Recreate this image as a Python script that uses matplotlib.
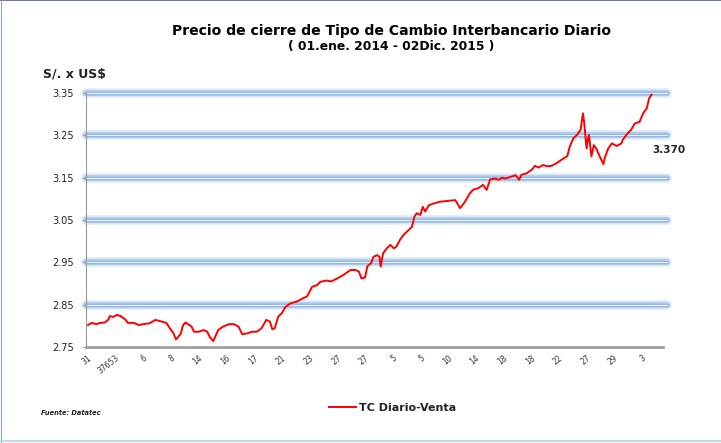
import matplotlib
matplotlib.use('Agg')
import matplotlib.pyplot as plt
from matplotlib.lines import Line2D

# indice de dia habil (desde 01.ene.2014) y tipo de cambio
dias = [0, 3, 7, 10, 14, 17, 18, 21, 24, 27, 31, 33, 38, 42, 46, 51, 56, 60, 65, 68,
        71, 73, 75, 77, 79, 81, 83, 86, 88, 92, 96, 99, 101, 104, 105, 108, 112, 117, 121, 125,
        128, 132, 136, 140, 144, 148, 151, 153, 155, 158, 161, 164, 168, 173, 182, 186, 190, 193, 198, 202,
        207, 212, 218, 222, 225, 227, 230, 232, 235, 237, 240, 242, 243, 245, 248, 251, 254, 256, 259, 262,
        266, 269, 271, 273, 276, 278, 280, 283, 287, 292, 298, 305, 309, 313, 317, 320, 324, 328, 331, 334,
        338, 341, 344, 346, 349, 355, 358, 360, 364, 369, 371, 374, 378, 381, 385, 389, 393, 398, 400, 403,
        406, 409, 411, 412, 414, 415, 416, 418, 420, 422, 425, 428, 429, 432, 435, 439, 443, 444, 447, 451,
        454, 458, 461, 464, 466, 468]
tc_venta = [2.802, 2.807, 2.804, 2.807, 2.808, 2.815, 2.823, 2.821, 2.826, 2.823, 2.815, 2.807, 2.807, 2.802, 2.804, 2.806, 2.814, 2.811, 2.807, 2.794,
            2.782, 2.768, 2.774, 2.782, 2.802, 2.808, 2.804, 2.798, 2.786, 2.786, 2.790, 2.786, 2.774, 2.764, 2.770, 2.790, 2.798, 2.804, 2.804, 2.798,
            2.780, 2.782, 2.786, 2.786, 2.794, 2.814, 2.810, 2.792, 2.794, 2.822, 2.830, 2.845, 2.853, 2.857, 2.870, 2.892, 2.896, 2.904, 2.907, 2.905,
            2.912, 2.920, 2.932, 2.932, 2.928, 2.912, 2.914, 2.941, 2.948, 2.963, 2.967, 2.963, 2.940, 2.971, 2.983, 2.991, 2.983, 2.987, 3.003, 3.015,
            3.026, 3.034, 3.058, 3.066, 3.062, 3.081, 3.070, 3.085, 3.089, 3.093, 3.095, 3.097, 3.078, 3.093, 3.113, 3.122, 3.125, 3.133, 3.121, 3.146,
            3.148, 3.145, 3.150, 3.148, 3.150, 3.156, 3.145, 3.157, 3.160, 3.170, 3.178, 3.174, 3.180, 3.177, 3.178, 3.184, 3.192, 3.201, 3.223, 3.243,
            3.251, 3.263, 3.302, 3.280, 3.219, 3.240, 3.251, 3.200, 3.227, 3.219, 3.200, 3.182, 3.196, 3.219, 3.231, 3.225, 3.231, 3.239, 3.251, 3.263,
            3.278, 3.282, 3.302, 3.314, 3.338, 3.346]

etiquetas_x = ['31', '37653', '6', '8', '14', '16', '17', '21', '23', '27', '27',
               '5', '5', '10', '14', '18', '18', '22', '27', '29', '3']
paso_ticks = 23
y_ticks = [2.75, 2.85, 2.95, 3.05, 3.15, 3.25, 3.35]
ultimo_valor = '3.370'

plt.rcParams['font.family'] = ['DejaVu Sans']
txt = '#222222'

fig = plt.figure(figsize=(7.21, 4.43), dpi=100)
fig.patch.set_facecolor('white')
# marco de la imagen
fig.add_artist(Line2D([0, 1], [0.999, 0.999], color='#50627a', lw=1.2))
fig.add_artist(Line2D([0.002, 0.002], [0, 1], color='#8ea4c0', lw=0.8))
fig.add_artist(Line2D([0, 1], [0.004, 0.004], color='#b8cfe8', lw=1.2))

ax = fig.add_axes([0.1193, 0.2167, 0.8003, 0.5733])
ax.set_xlim(-1.7, 477.5)
ax.set_ylim(2.75, 3.35)

# lineas de grilla con efecto brillo
for yv in y_ticks[1:]:
    for lw, col, al in [(7, '#dce8f6', 0.8), (4.5, '#aecbee', 0.9), (2.5, '#8fb6e6', 1.0), (0.8, '#eef4fb', 1.0)]:
        ax.plot([-1.7, 481], [yv, yv], color=col, lw=lw, alpha=al,
                solid_capstyle='round', clip_on=False, zorder=1)

ax.plot(dias, tc_venta, color='#ff0000', lw=1.4, zorder=3, label='TC Diario-Venta')

for s in ['top', 'right']:
    ax.spines[s].set_visible(False)
ax.spines['left'].set_color('#9a9a9a')
ax.spines['left'].set_linestyle((0, (2, 1)))
ax.spines['left'].set_linewidth(0.8)
ax.spines['bottom'].set_color('#a0a0a0')
ax.spines['bottom'].set_linewidth(2)

ax.set_yticks(y_ticks)
ax.set_yticklabels(['%.2f' % v for v in y_ticks], fontsize=7, color=txt)
ax.tick_params(axis='y', length=3, width=0.6, color='#9a9a9a', pad=6)

xt = [i * paso_ticks for i in range(len(etiquetas_x))]
ax.set_xticks(xt)
ax.set_xticklabels(etiquetas_x, fontsize=5.5, color='#333333', rotation=38,
                   ha='right', rotation_mode='anchor')
ax.tick_params(axis='x', length=0, pad=5)

ax.text(468 + 1, 3.215, ultimo_valor, fontsize=7.5, fontweight='bold', color=txt,
        ha='left', va='center')

fig.text(0.543, 0.930, 'Precio de cierre de Tipo de Cambio Interbancario Diario',
         fontsize=10.1, fontweight='bold', ha='center', va='center', color='black')
fig.text(0.543, 0.896, '( 01.ene. 2014 - 02Dic. 2015 )',
         fontsize=8.9, fontweight='bold', ha='center', va='center', color='black')
fig.text(0.060, 0.833, 'S/. x US$', fontsize=9, fontweight='bold', ha='left',
         va='center', color=txt)
fig.text(0.057, 0.068, 'Fuente: Datatec', fontsize=4.8, fontweight='bold',
         style='italic', ha='left', va='center', color=txt)

leg = fig.legend(loc='center', bbox_to_anchor=(0.545, 0.079), frameon=False,
                 fontsize=8, handlelength=2.4, handletextpad=0.3)
for t in leg.get_texts():
    t.set_fontweight('bold')
    t.set_color(txt)

fig.savefig('out.png', dpi=100)
